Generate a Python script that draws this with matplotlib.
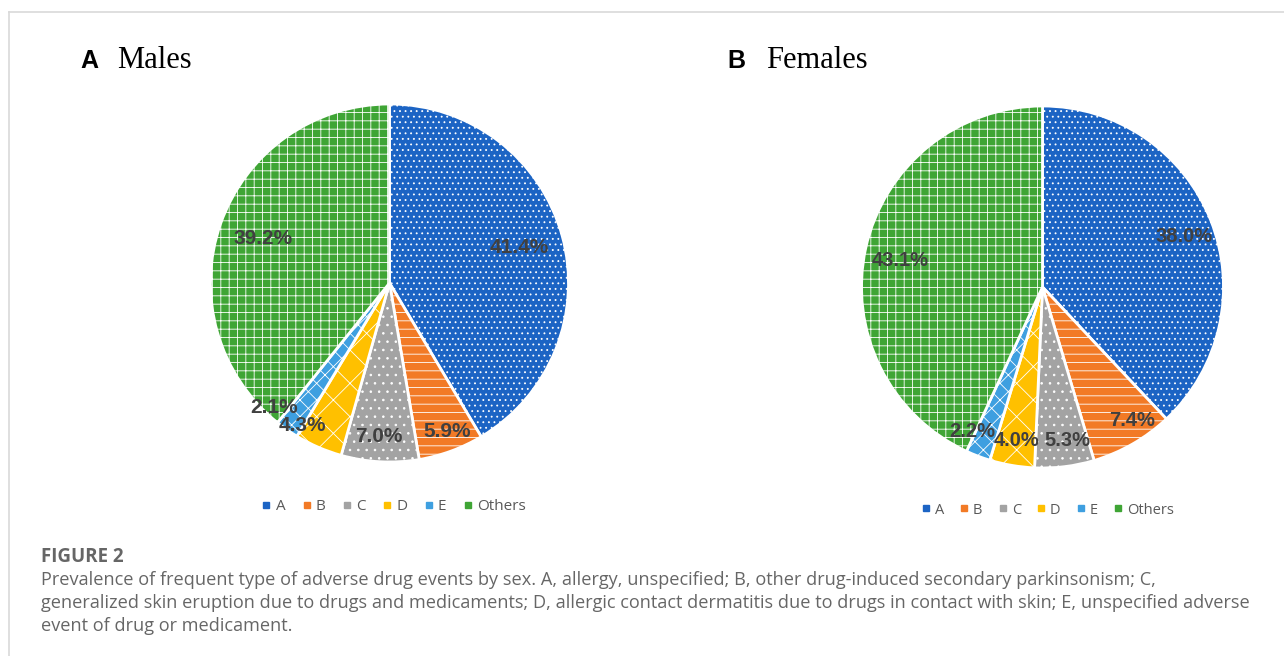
import numpy as np
import matplotlib
matplotlib.use('Agg')
import matplotlib.pyplot as plt
from matplotlib.lines import Line2D

categories = ['A', 'B', 'C', 'D', 'E', 'Others']
males = [41.4, 5.9, 7.0, 4.3, 2.1, 39.2]
females = [38.0, 7.4, 5.3, 4.0, 2.2, 43.1]
panel_letters = ['A', 'B']
panel_titles = ['Males', 'Females']

colors = ['#1C64C4', '#F27A26', '#A3A3A3', '#FFC000', '#3E9FE0', '#3FA535']
hatches = ['...', '--', '..', 'x', 'xx', '++']

caption_head = 'FIGURE 2'
caption_lines = [
    'Prevalence of frequent type of adverse drug events by sex. A, allergy, unspecified; B, other drug-induced secondary parkinsonism; C,',
    'generalized skin eruption due to drugs and medicaments; D, allergic contact dermatitis due to drugs in contact with skin; E, unspecified adverse',
    'event of drug or medicament.',
]

plt.rcParams['hatch.linewidth'] = 0.6

W, H = 1284, 656
fig = plt.figure(figsize=(W / 100, H / 100), dpi=100)


def px_axes(cx, cy, r):
    return fig.add_axes([(cx - r) / W, (H - cy - r) / H, 2 * r / W, 2 * r / H])


def draw_pie(ax, values, label_r, label_dang, fs):
    wedges, _ = ax.pie(values, colors=colors, startangle=90, counterclock=False,
                       wedgeprops=dict(edgecolor='white', linewidth=2))
    for w, h in zip(wedges, hatches):
        w.set_hatch(h)
    for w, v, rr, da in zip(wedges, values, label_r, label_dang):
        ang = np.deg2rad((w.theta1 + w.theta2) / 2 + da)
        ax.text(rr * np.cos(ang), rr * np.sin(ang), f'{v:.1f}%', ha='center', va='center',
                fontsize=fs, fontweight='bold', color='#404040', family='Liberation Sans')
    ax.set_xlim(-1, 1)
    ax.set_ylim(-1, 1)
    ax.set_aspect('auto')
    ax.axis('off')


ax1 = px_axes(389.5, 283, 179)
draw_pie(ax1, males, [0.75, 0.89, 0.86, 0.93, 0.95, 0.75], [0, 1, -1, -8, -8, 0], 15)
ax2 = px_axes(1042.5, 287, 181)
draw_pie(ax2, females, [0.83, 0.89, 0.86, 0.86, 0.89, 0.8], [-2, 4, 2, 0, -5, 2], 14.5)

# panel titles
for x_letter, x_title, letter, title in [(80, 117, panel_letters[0], panel_titles[0]),
                                         (727, 766, panel_letters[1], panel_titles[1])]:
    fig.text(x_letter / W, 1 - 68 / H, letter, fontsize=18, fontweight='bold',
             family='Liberation Sans', va='baseline')
    fig.text(x_title / W, 1 - 68 / H, title, fontsize=22, family='Liberation Serif', va='baseline')

# legends
handles = [Line2D([], [], marker='s', linestyle='none', markersize=5, color=c) for c in colors]
fig.legend(handles, categories, loc='center', bbox_to_anchor=(393 / W, 1 - 507 / H), ncol=6,
           frameon=False, handletextpad=0.2, columnspacing=1.0, handlelength=0.8,
           prop={'family': 'Open Sans', 'size': 11}, labelcolor='#595959')
fig.legend(handles, categories, loc='center', bbox_to_anchor=(1047 / W, 1 - 510 / H), ncol=6,
           frameon=False, handletextpad=0.2, columnspacing=1.0, handlelength=0.8,
           prop={'family': 'Open Sans', 'size': 10.5}, labelcolor='#595959')

# border
fig.add_artist(Line2D([9 / W, 9 / W], [0, 1 - 12 / H], color='#d9d9d9', lw=1.2))
fig.add_artist(Line2D([9 / W, 1], [1 - 12 / H, 1 - 12 / H], color='#d9d9d9', lw=1.2))

# caption
fig.text(41 / W, 1 - 562 / H, caption_head, fontsize=13.5, fontweight='bold', color='#666666',
         family='Open Sans', va='baseline')
for i, line in enumerate(caption_lines):
    fig.text(41 / W, 1 - (585 + 23 * i) / H, line, fontsize=13.1, color='#666666',
             family='Open Sans', va='baseline')

fig.savefig('out.png', dpi=100)
